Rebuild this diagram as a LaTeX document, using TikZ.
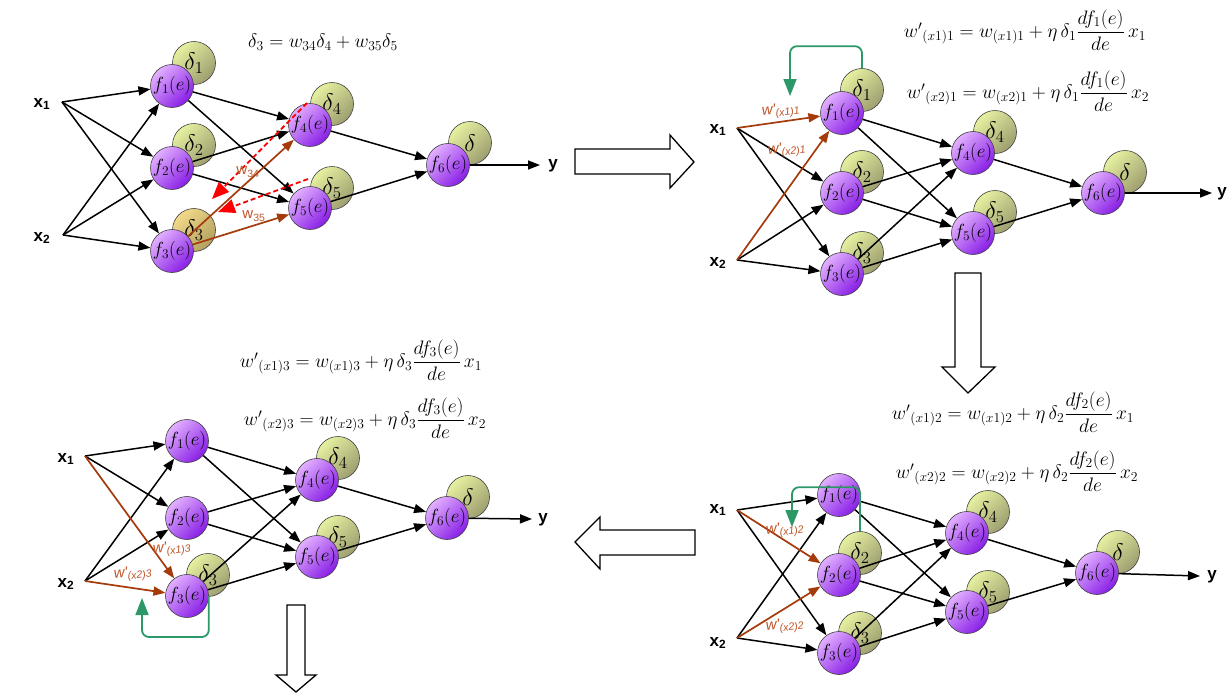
\documentclass[tikz,border=0pt]{standalone}
\usepackage{fix-cm}
\usepackage{amsmath}
\usepackage{fontspec}
\newfontfamily\labfont{Liberation Sans}
\usetikzlibrary{arrows.meta}
\definecolor{vioA}{RGB}{226,176,255}
\definecolor{vioB}{RGB}{136,30,230}
\definecolor{olvA}{RGB}{230,240,160}
\definecolor{olvB}{RGB}{158,158,112}
\definecolor{tanA}{RGB}{242,218,138}
\definecolor{tanB}{RGB}{178,160,96}
\definecolor{wbrown}{RGB}{165,58,10}
\definecolor{lbrown}{RGB}{190,84,40}
\definecolor{upgreen}{RGB}{44,152,104}
\tikzset{
  neuron/.style={circle, draw=black!75, line width=0.6pt, minimum size=43pt, inner sep=0pt,
    top color=vioA, bottom color=vioB, shading angle=45, font=\fontsize{19}{19}\selectfont},
  delta/.style={circle, draw=black!75, line width=0.6pt, minimum size=43pt, inner sep=0pt,
    top color=olvA, bottom color=olvB, shading angle=45, font=\fontsize{24}{24}\selectfont},
  link/.style={-{Triangle[length=12pt,width=9pt]}, line width=1.5pt},
  wlink/.style={link, draw=wbrown, line width=1.7pt},
  backlink/.style={red, line width=1.8pt, dash pattern=on 5pt off 3pt, -{Triangle[length=17pt,width=14pt]}},
  update/.style={draw=upgreen, line width=1.8pt, rounded corners=7pt, -{Triangle[length=17pt,width=13pt]}},
  inlab/.style={font=\labfont\fontsize{17}{17}\selectfont\bfseries},
  wlab/.style={text=lbrown, font=\labfont\fontsize{15}{15}\selectfont\itshape},
  eq/.style={font=\fontsize{19.5}{23}\selectfont},
  bigarrow/.style={draw, line width=1.3pt, fill=white, line join=miter}
}
\begin{document}
\begin{tikzpicture}[x=1pt, y=-1pt]
\useasboundingbox (0,0) rectangle (1231,697);

% top left: backward pass of the error
\begin{scope}[name prefix=a-]
\node[delta] (d1) at (194,63) {$\delta_1$};
\node[delta] (d2) at (194,145) {$\delta_2$};
\node[delta, top color=tanA, bottom color=tanB, shading angle=45] (d3) at (194,230) {$\delta_3$};
\node[delta] (d4) at (332,104) {$\delta_4$};
\node[delta] (d5) at (332,188) {$\delta_5$};
\node[delta] (d6) at (470,143) {$\delta$};
\node[neuron] (f1) at (172,86) {$f_1(e)$};
\node[neuron] (f2) at (172,168) {$f_2(e)$};
\node[neuron] (f3) at (172,251) {$f_3(e)$};
\node[neuron] (f4) at (310,125) {$f_4(e)$};
\node[neuron] (f5) at (310,208) {$f_5(e)$};
\node[neuron] (f6) at (448,165) {$f_6(e)$};
\coordinate (i1) at (62,102);
\coordinate (i2) at (63,235);
\coordinate (o) at (540,165);
\node[inlab] (x1) at (42,104) {x\textsubscript{1}};
\node[inlab] (x2) at (42,238) {x\textsubscript{2}};
\node[inlab] (y) at (553,166) {y};
\foreach \a/\b in {i1/f1,i1/f2,i1/f3,i2/f1,i2/f2,i2/f3,f1/f4,f1/f5,f2/f4,f2/f5,f4/f6,f5/f6,f6/o}
  \draw[link] (\a) -- (\b);
\draw[wlink] (f3) -- (f4);
\draw[wlink] (f3) -- (f5);
\coordinate (r1) at (307,103);
\coordinate (r1e) at (212,199);
\coordinate (r2) at (308,179);
\coordinate (r2e) at (218,212);
\draw[backlink] (r1) -- (r1e);
\draw[backlink] (r2) -- (r2e);
\node[wlab, font=\labfont\fontsize{15}{15}\selectfont] (w34) at (248,172) {w\textsubscript{34}};
\node[wlab, font=\labfont\fontsize{15}{15}\selectfont] (w35) at (254,216) {w\textsubscript{35}};
\node[eq] (eq) at (323,42) {$\delta_3 = w_{34}\delta_4 + w_{35}\delta_5$};
\end{scope}

% top right: weights into f1
\begin{scope}[name prefix=b-]
\node[delta] (d1) at (862,90) {$\delta_1$};
\node[delta] (d2) at (862,172) {$\delta_2$};
\node[delta] (d3) at (862,253) {$\delta_3$};
\node[delta] (d4) at (995,132) {$\delta_4$};
\node[delta] (d5) at (995,212) {$\delta_5$};
\node[delta] (d6) at (1125,172) {$\delta$};
\node[neuron] (f1) at (842,113) {$f_1(e)$};
\node[neuron] (f2) at (842,193) {$f_2(e)$};
\node[neuron] (f3) at (842,274) {$f_3(e)$};
\node[neuron] (f4) at (973,153) {$f_4(e)$};
\node[neuron] (f5) at (973,233) {$f_5(e)$};
\node[neuron] (f6) at (1103,193) {$f_6(e)$};
\coordinate (i1) at (737,128);
\coordinate (i2) at (737,260);
\coordinate (o) at (1212,193);
\node[inlab] (x1) at (718,130) {x\textsubscript{1}};
\node[inlab] (x2) at (718,263) {x\textsubscript{2}};
\node[inlab] (y) at (1222,194) {y};
\foreach \a/\b in {i1/f2,i1/f3,i2/f2,i2/f3,f1/f4,f1/f5,f2/f4,f2/f5,f3/f4,f3/f5,f4/f6,f5/f6,f6/o}
  \draw[link] (\a) -- (\b);
\draw[wlink] (i1) -- (f1);
\draw[wlink] (i2) -- (f1);
\node[wlab, rotate=6] (w1) at (781,111) {w'\textsubscript{(x1)1}};
\node[wlab, rotate=6] (w2) at (787,150) {w'\textsubscript{(x2)1}};
\coordinate (t) at (790,96);
\draw[update] (d1.north) -- ++(0,-22) -| (t);
\node[eq] (eq1) at (1025,30) {${w'}_{(x1)1} = w_{(x1)1} + \eta\,\delta_1 \dfrac{df_1(e)}{de}\,x_1$};
\node[eq] (eq2) at (1028,91) {${w'}_{(x2)1} = w_{(x2)1} + \eta\,\delta_1 \dfrac{df_1(e)}{de}\,x_2$};
\end{scope}

% bottom right: weights into f2
\begin{scope}[name prefix=c-]
\node[delta] (d2) at (860,553) {$\delta_2$};
\node[delta] (d3) at (860,633) {$\delta_3$};
\node[delta] (d4) at (988,512) {$\delta_4$};
\node[delta] (d5) at (988,592) {$\delta_5$};
\node[delta] (d6) at (1118,552) {$\delta$};
\node[neuron] (f1) at (839,495) {$f_1(e)$};
\node[neuron] (f2) at (839,575) {$f_2(e)$};
\node[neuron] (f3) at (839,653) {$f_3(e)$};
\node[neuron] (f4) at (967,533) {$f_4(e)$};
\node[neuron] (f5) at (967,612) {$f_5(e)$};
\node[neuron] (f6) at (1097,573) {$f_6(e)$};
\coordinate (i1) at (737,510);
\coordinate (i2) at (737,638);
\coordinate (o) at (1200,576);
\node[inlab] (x1) at (718,510) {x\textsubscript{1}};
\node[inlab] (x2) at (718,643) {x\textsubscript{2}};
\node[inlab] (y) at (1212,577) {y};
\foreach \a/\b in {i1/f1,i1/f3,i2/f1,i2/f3,f1/f4,f1/f5,f2/f4,f2/f5,f3/f4,f3/f5,f4/f6,f5/f6,f6/o}
  \draw[link] (\a) -- (\b);
\draw[wlink] (i1) -- (f2);
\draw[wlink] (i2) -- (f2);
\node[wlab, rotate=6] (w1) at (785,530) {w'\textsubscript{(x1)2}};
\node[wlab, rotate=6] (w2) at (785,626) {w'\textsubscript{(x2)2}};
\coordinate (t) at (792,527);
\draw[update] (d2.north) -- ++(0,-44) -| (t);
\node[eq] (eq1) at (1013,412) {${w'}_{(x1)2} = w_{(x1)2} + \eta\,\delta_2 \dfrac{df_2(e)}{de}\,x_1$};
\node[eq] (eq2) at (1017,471) {${w'}_{(x2)2} = w_{(x2)2} + \eta\,\delta_2 \dfrac{df_2(e)}{de}\,x_2$};
\end{scope}

% bottom left: weights into f3
\begin{scope}[name prefix=d-]
\node[delta] (d3) at (208,575) {$\delta_3$};
\node[delta] (d4) at (338,458) {$\delta_4$};
\node[delta] (d5) at (338,537) {$\delta_5$};
\node[delta] (d6) at (468,497) {$\delta$};
\node[neuron] (f1) at (187,441) {$f_1(e)$};
\node[neuron] (f2) at (187,518) {$f_2(e)$};
\node[neuron] (f3) at (187,596) {$f_3(e)$};
\node[neuron] (f4) at (317,480) {$f_4(e)$};
\node[neuron] (f5) at (317,557) {$f_5(e)$};
\node[neuron] (f6) at (447,518) {$f_6(e)$};
\coordinate (i1) at (85,456);
\coordinate (i2) at (85,581);
\coordinate (o) at (532,519);
\node[inlab] (x1) at (66,459) {x\textsubscript{1}};
\node[inlab] (x2) at (66,584) {x\textsubscript{2}};
\node[inlab] (y) at (543,520) {y};
\foreach \a/\b in {i1/f1,i1/f2,i2/f1,i2/f2,f1/f4,f1/f5,f2/f4,f2/f5,f3/f4,f3/f5,f4/f6,f5/f6,f6/o}
  \draw[link] (\a) -- (\b);
\draw[wlink] (i1) -- (f3);
\draw[wlink] (i2) -- (f3);
\node[wlab, rotate=6] (w1) at (172,549) {w'\textsubscript{(x1)3}};
\node[wlab, rotate=6] (w2) at (133,574) {w'\textsubscript{(x2)3}};
\coordinate (t) at (142,598);
\draw[update] (f3.east) -- ++(0,41) -| (t);
\node[eq] (eq1) at (361,360) {${w'}_{(x1)3} = w_{(x1)3} + \eta\,\delta_3 \dfrac{df_3(e)}{de}\,x_1$};
\node[eq] (eq2) at (365,418) {${w'}_{(x2)3} = w_{(x2)3} + \eta\,\delta_3 \dfrac{df_3(e)}{de}\,x_2$};
\end{scope}

% hollow step arrows
\draw[bigarrow] (575,149) -- (670,149) -- (670,135) -- (694,162) -- (670,188) -- (670,174) -- (575,174) -- cycle;
\draw[bigarrow] (955,273) -- (981,273) -- (981,367) -- (995,367) -- (968,393) -- (942,367) -- (955,367) -- cycle;
\draw[bigarrow] (695,530) -- (600,530) -- (600,517) -- (575,542) -- (600,569) -- (600,555) -- (695,555) -- cycle;
\draw[bigarrow] (287,605) -- (305,605) -- (305,675) -- (316,675) -- (296,692) -- (276,675) -- (287,675) -- cycle;
\end{tikzpicture}
\end{document}
